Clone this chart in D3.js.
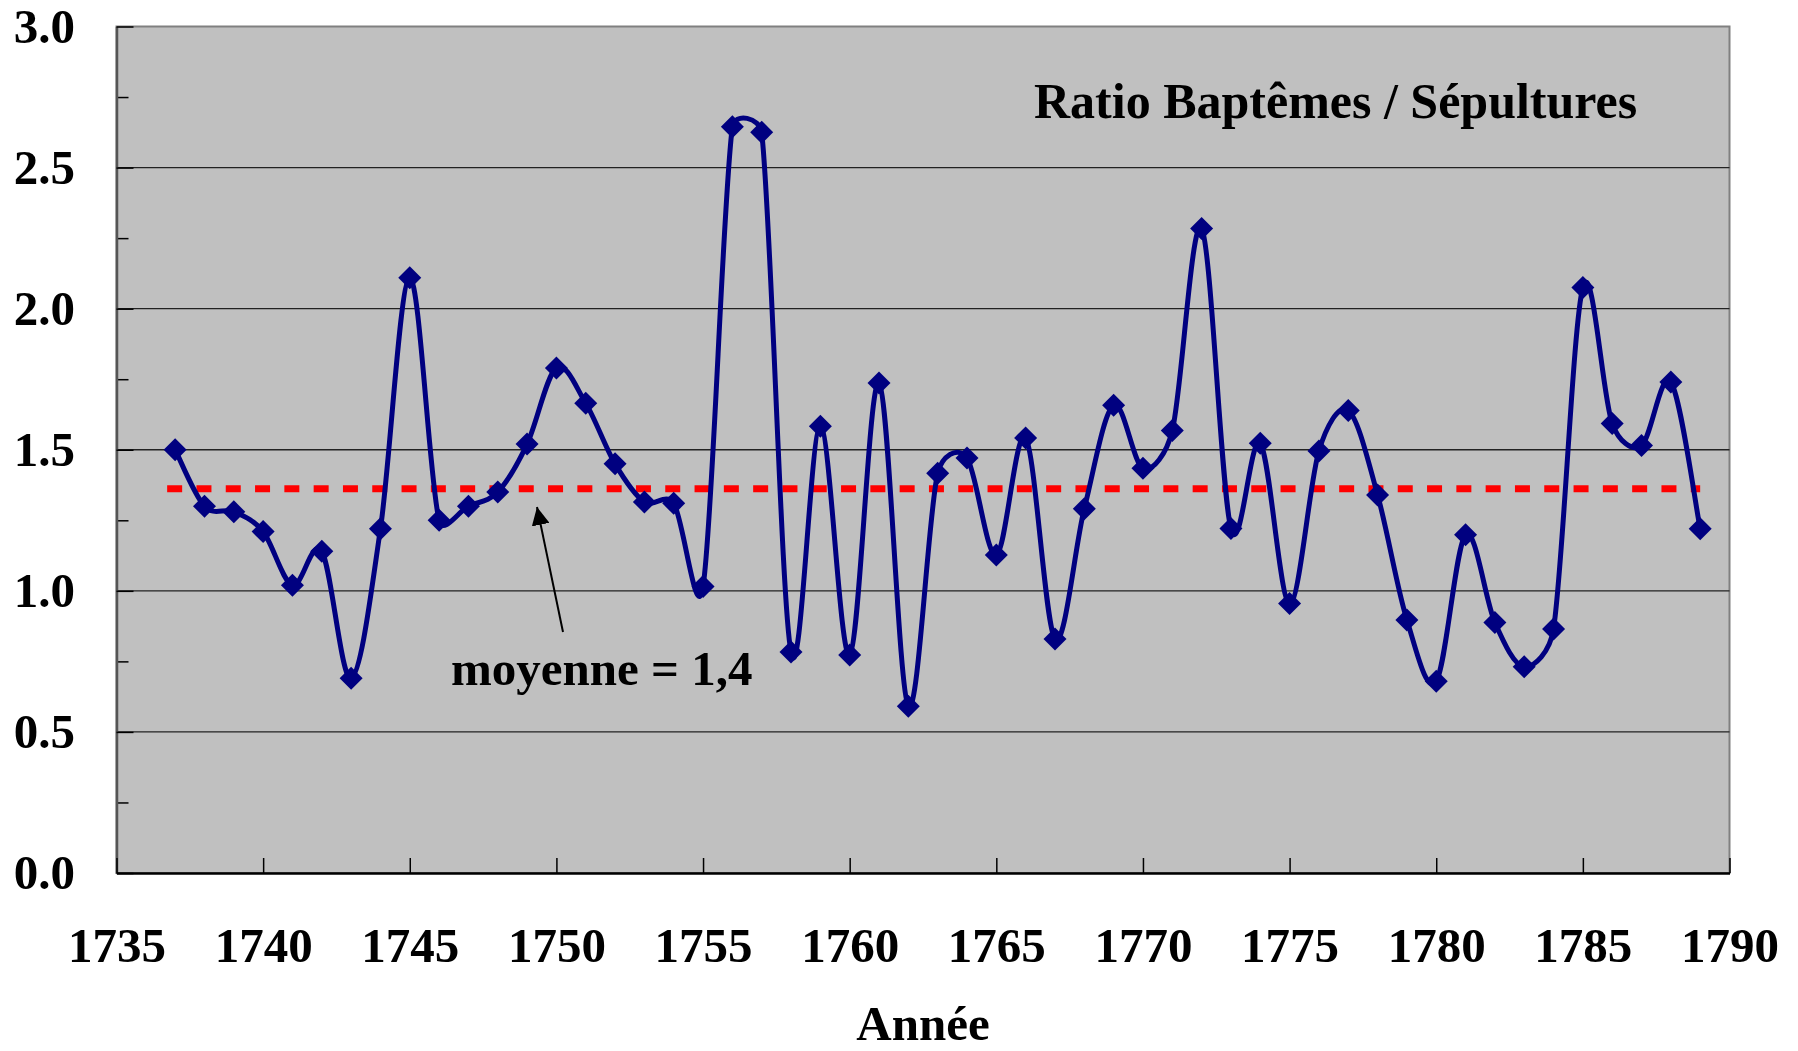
<!DOCTYPE html>
<html>
<head>
<meta charset="utf-8">
<script src="https://cdn.jsdelivr.net/npm/d3@7"></script>
<style>
  html, body { margin: 0; padding: 0; background: #fff; }
  svg { display: block; }
  text { font-family: "Liberation Serif", "Times New Roman", serif; font-weight: bold; fill: #000; }
</style>
</head>
<body>
<svg id="chart" width="1798" height="1051"></svg>
<script>
// ---- Data ----
const years = d3.range(1737, 1790);
const ratios = [
  1.50, 1.30, 1.28, 1.21, 1.02, 1.14, 0.69, 1.22, 2.11, 1.25,
  1.30, 1.35, 1.52, 1.79, 1.665, 1.45, 1.315, 1.31, 1.015, 2.645,
  2.625, 0.783, 1.583, 0.773, 1.737, 0.591, 1.417, 1.471, 1.127, 1.542,
  0.829, 1.291, 1.658, 1.434, 1.568, 2.284, 1.221, 1.523, 0.955, 1.496,
  1.639, 1.340, 0.897, 0.680, 1.199, 0.888, 0.731, 0.865, 2.075, 1.593,
  1.515, 1.740, 1.220
];
const meanValue = 1.362;
const meanYears = [1737, 1789];
const xTicks = [1735, 1740, 1745, 1750, 1755, 1760, 1765, 1770, 1775, 1780, 1785, 1790];
const yTicks = [0, 0.5, 1.0, 1.5, 2.0, 2.5, 3.0];
const yMinorTicks = [0.25, 0.75, 1.25, 1.75, 2.25, 2.75];
const gridValues = [0.5, 1.0, 1.5, 2.0, 2.5];
const titleText = "Ratio Baptêmes / Sépultures";
const xAxisTitle = "Année";
const meanLabel = "moyenne = 1,4";

// Spreadsheet-style smoothed line (Bezier with capped tangents), as a d3 curve
function SmoothCurve(context) { this._context = context; }
SmoothCurve.prototype = {
  areaStart() {}, areaEnd() {},
  lineStart() { this._p = []; },
  point(x, y) { this._p.push([+x, +y]); },
  lineEnd() {
    const p = this._p, c = this._context, n = p.length;
    if (!n) return;
    c.moveTo(p[0][0], p[0][1]);
    const dist = (a, b) => Math.hypot(b[0] - a[0], b[1] - a[1]);
    for (let i = 0; i < n - 1; i++) {
      const P0 = p[Math.max(0, i - 1)], P1 = p[i], P2 = p[i + 1], P3 = p[Math.min(n - 1, i + 2)];
      const d12 = dist(P1, P2), d02 = dist(P0, P2), d13 = dist(P1, P3);
      const f1 = d02 === 0 ? 0 : (d02 / 6 < d12 / 2 ? 1 / 6 : d12 / (2 * d02));
      const f2 = d13 === 0 ? 0 : (d13 / 6 < d12 / 2 ? 1 / 6 : d12 / (2 * d13));
      const c1 = [P1[0] + (P2[0] - P0[0]) * f1, P1[1] + (P2[1] - P0[1]) * f1];
      const c2 = [P2[0] - (P3[0] - P1[0]) * f2, P2[1] - (P3[1] - P1[1]) * f2];
      c.bezierCurveTo(c1[0], c1[1], c2[0], c2[1], P2[0], P2[1]);
    }
  }
};
const smoothCurve = ctx => new SmoothCurve(ctx);

(function () {
  const svg = d3.select("#chart");
  const pL = 116.5, pR = 1729.5, pT = 26.5, pB = 873;
  const x = d3.scaleLinear().domain([1735, 1790]).range([pL, pR]);
  const y = d3.scaleLinear().domain([0, 3]).range([pB, pT]);
  const FONT = "'Liberation Serif', 'Times New Roman', serif";

  // plot background
  svg.append("rect")
    .attr("x", pL).attr("y", pT)
    .attr("width", pR - pL).attr("height", pB - pT)
    .attr("fill", "#C0C0C0")
    .attr("stroke", "#808080").attr("stroke-width", 2);

  // gridlines
  svg.append("g").selectAll("line").data(gridValues).join("line")
    .attr("x1", pL).attr("x2", pR)
    .attr("y1", d => y(d)).attr("y2", d => y(d))
    .attr("stroke", "#222").attr("stroke-width", 1.3);

  // minor y ticks
  const yMinor = svg.append("g").attr("transform", `translate(${pL},0)`)
    .call(d3.axisLeft(y).tickValues(yMinorTicks).tickSize(-12).tickFormat(""));
  yMinor.select(".domain").remove();
  yMinor.selectAll("line").attr("stroke", "#000").attr("stroke-width", 1.5);

  // y axis
  const yAxis = svg.append("g").attr("transform", `translate(${pL},0)`)
    .call(d3.axisLeft(y).tickValues(yTicks).tickSize(-17).tickSizeOuter(0).tickFormat(d3.format(".1f")));
  yAxis.select(".domain").attr("stroke", "#555").attr("stroke-width", 2.5);
  yAxis.selectAll(".tick line").attr("stroke", "#000").attr("stroke-width", 1.5);
  yAxis.selectAll("text")
    .attr("x", -41.5).attr("dy", "0.32em")
    .style("font-size", "49px").style("font-family", FONT)
    .style("font-weight", "bold").attr("fill", "#000").attr("text-anchor", "end");

  // x axis
  const xAxis = svg.append("g").attr("transform", `translate(0,${pB})`)
    .call(d3.axisBottom(x).tickValues(xTicks).tickSize(-15).tickSizeOuter(0).tickFormat(d3.format("d")));
  xAxis.select(".domain").attr("stroke", "#000").attr("stroke-width", 2.5);
  xAxis.selectAll(".tick line").attr("stroke", "#000").attr("stroke-width", 1.5);
  xAxis.selectAll("text")
    .attr("y", 89).attr("dy", 0)
    .style("font-size", "49px").style("font-family", FONT)
    .style("font-weight", "bold").attr("fill", "#000");

  // mean dashed line
  svg.append("line")
    .attr("x1", x(meanYears[0]) - 8).attr("x2", x(meanYears[1]))
    .attr("y1", y(meanValue)).attr("y2", y(meanValue))
    .attr("stroke", "#FF0000").attr("stroke-width", 7)
    .attr("stroke-dasharray", "15,14.3");

  // data series
  const pts = years.map((yr, i) => [yr, ratios[i]]);
  const line = d3.line().x(d => x(d[0])).y(d => y(d[1])).curve(smoothCurve);
  svg.append("path").datum(pts)
    .attr("d", line)
    .attr("fill", "none").attr("stroke", "#000080").attr("stroke-width", 5)
    .attr("stroke-linejoin", "round");

  const s = 11.5;
  svg.append("g").selectAll("path").data(pts).join("path")
    .attr("transform", d => `translate(${x(d[0])},${y(d[1])})`)
    .attr("d", `M0,${-s}L${s},0L0,${s}L${-s},0Z`)
    .attr("fill", "#000080");

  // title inside plot
  svg.append("text")
    .attr("x", 1034).attr("y", 118)
    .style("font-size", "50px")
    .text(titleText);

  // arrow annotation
  svg.append("defs").append("marker")
    .attr("id", "arrowhead").attr("viewBox", "0 0 10 10")
    .attr("refX", 10).attr("refY", 5)
    .attr("markerWidth", 18).attr("markerHeight", 18)
    .attr("markerUnits", "userSpaceOnUse")
    .attr("orient", "auto")
    .append("path").attr("d", "M0,0L10,5L0,10Z").attr("fill", "#000");

  svg.append("line")
    .attr("x1", 563).attr("y1", 632)
    .attr("x2", 537).attr("y2", 507)
    .attr("stroke", "#000").attr("stroke-width", 2)
    .attr("marker-end", "url(#arrowhead)");

  svg.append("text")
    .attr("x", 451).attr("y", 685)
    .style("font-size", "49px")
    .text(meanLabel);

  // x axis title
  svg.append("text")
    .attr("x", (pL + pR) / 2).attr("y", 1040)
    .attr("text-anchor", "middle")
    .style("font-size", "49px")
    .text(xAxisTitle);
})();
</script>
</body>
</html>
